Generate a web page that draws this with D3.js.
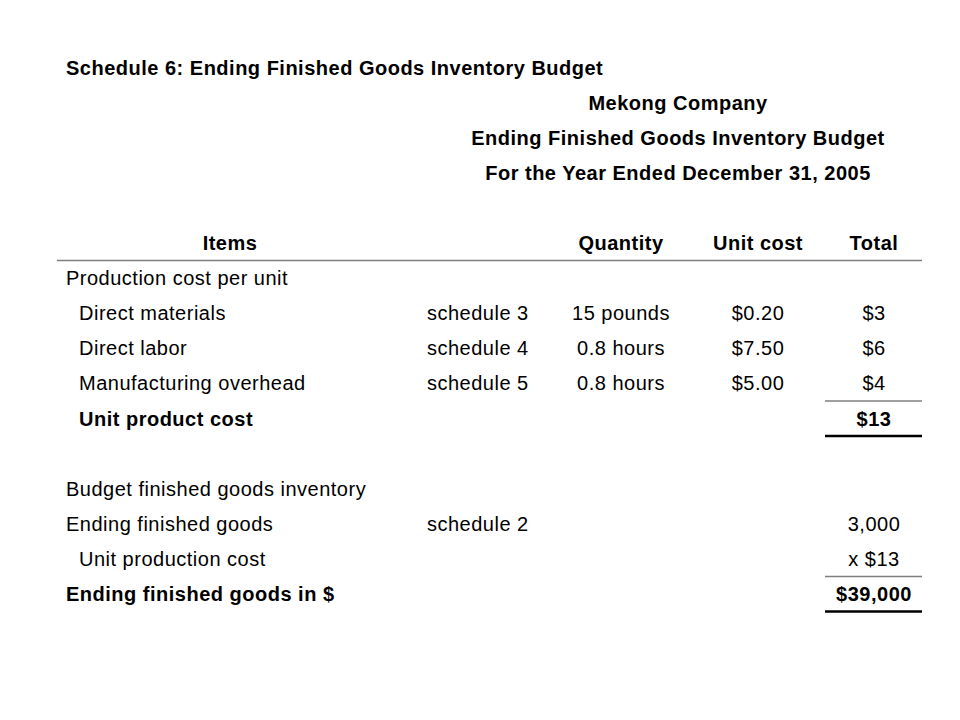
<!DOCTYPE html>
<html>
<head>
<meta charset="utf-8">
<script src="https://cdn.jsdelivr.net/npm/d3@7"></script>
<style>
  body { margin: 0; background: #fff; }
  text { font-family: "Liberation Sans", Arial, sans-serif; font-size: 20px; letter-spacing: 0.5px; fill: #000; }
</style>
</head>
<body>
<div id="table"></div>
<script>
// Titles
const pageTitle = "Schedule 6: Ending Finished Goods Inventory Budget";
const titleLines = ["Mekong Company", "Ending Finished Goods Inventory Budget", "For the Year Ended December 31, 2005"];

// Column headers
const headers = ["Items", "", "Quantity", "Unit cost", "Total"];

// Table rows (one entry per row, "" = empty cell)
const items = ["Production cost per unit", "Direct materials", "Direct labor", "Manufacturing overhead",
  "Unit product cost", "", "Budget finished goods inventory", "Ending finished goods",
  "Unit production cost", "Ending finished goods in $"];
const refs = ["", "schedule 3", "schedule 4", "schedule 5", "", "", "", "schedule 2", "", ""];
const quantities = ["", "15 pounds", "0.8 hours", "0.8 hours", "", "", "", "", "", ""];
const unitCosts = ["", "$0.20", "$7.50", "$5.00", "", "", "", "", "", ""];
const totals = ["", "$3", "$6", "$4", "$13", "", "", "3,000", "x $13", "$39,000"];

// Which rows are bold / indented, and which rows get a total rule
const boldRows = [4, 9];
const indentRows = [1, 2, 3, 4, 8];
const subtotalRows = [4, 9];

const width = 960, height = 720;

const svg = d3.select("#table")
  .append("svg")
  .attr("width", width)
  .attr("height", height);

// Row scale: title sits at -5, header at 0, body rows 1..10
const y = d3.scaleLinear().domain([-5, 0]).range([67.5, 243]);
const rowH = y(1) - y(0);

// Column anchors
const col = {
  left: 66,
  indent: 79,
  ref: 427,
  qty: 621,
  cost: 758,
  total: 874,
  titleMid: 678,
  itemsMid: 230
};

// Page title
svg.append("text")
  .attr("x", col.left)
  .attr("y", y(-5))
  .attr("dy", "0.35em")
  .style("font-weight", "bold")
  .text(pageTitle);

svg.selectAll(".title")
  .data(titleLines)
  .join("text")
  .attr("class", "title")
  .attr("x", col.titleMid)
  .attr("y", (d, i) => y(i - 4))
  .attr("dy", "0.35em")
  .attr("text-anchor", "middle")
  .style("font-weight", "bold")
  .text(d => d);

// Header row
const headerX = [col.itemsMid, col.ref, col.qty, col.cost, col.total];
svg.selectAll(".header")
  .data(headers)
  .join("text")
  .attr("class", "header")
  .attr("x", (d, i) => headerX[i])
  .attr("y", y(0))
  .attr("dy", "0.35em")
  .attr("text-anchor", "middle")
  .style("font-weight", "bold")
  .text(d => d);

svg.append("line")
  .attr("x1", 57).attr("x2", 922)
  .attr("y1", y(0) + rowH / 2).attr("y2", y(0) + rowH / 2)
  .attr("stroke", "#7f7f7f")
  .attr("stroke-width", 1.5);

// Body rows
const rows = svg.selectAll(".row")
  .data(items)
  .join("g")
  .attr("class", "row")
  .attr("transform", (d, i) => `translate(0,${y(i + 1)})`)
  .style("font-weight", (d, i) => boldRows.includes(i) ? "bold" : "normal");

rows.append("text")
  .attr("x", (d, i) => indentRows.includes(i) ? col.indent : col.left)
  .attr("dy", "0.35em")
  .text(d => d);

rows.append("text")
  .attr("x", col.ref)
  .attr("dy", "0.35em")
  .text((d, i) => refs[i]);

rows.append("text")
  .attr("x", col.qty)
  .attr("dy", "0.35em")
  .attr("text-anchor", "middle")
  .text((d, i) => quantities[i]);

rows.append("text")
  .attr("x", col.cost)
  .attr("dy", "0.35em")
  .attr("text-anchor", "middle")
  .text((d, i) => unitCosts[i]);

rows.append("text")
  .attr("x", col.total)
  .attr("dy", "0.35em")
  .attr("text-anchor", "middle")
  .text((d, i) => totals[i]);

// Subtotal rules: gray above, black below
subtotalRows.forEach(r => {
  const yc = y(r + 1);
  svg.append("line")
    .attr("x1", 825).attr("x2", 922)
    .attr("y1", yc - rowH / 2).attr("y2", yc - rowH / 2)
    .attr("stroke", "#7f7f7f")
    .attr("stroke-width", 1.5);
  svg.append("line")
    .attr("x1", 825).attr("x2", 922)
    .attr("y1", yc + rowH / 2).attr("y2", yc + rowH / 2)
    .attr("stroke", "#000")
    .attr("stroke-width", 2.5);
});
</script>
</body>
</html>
